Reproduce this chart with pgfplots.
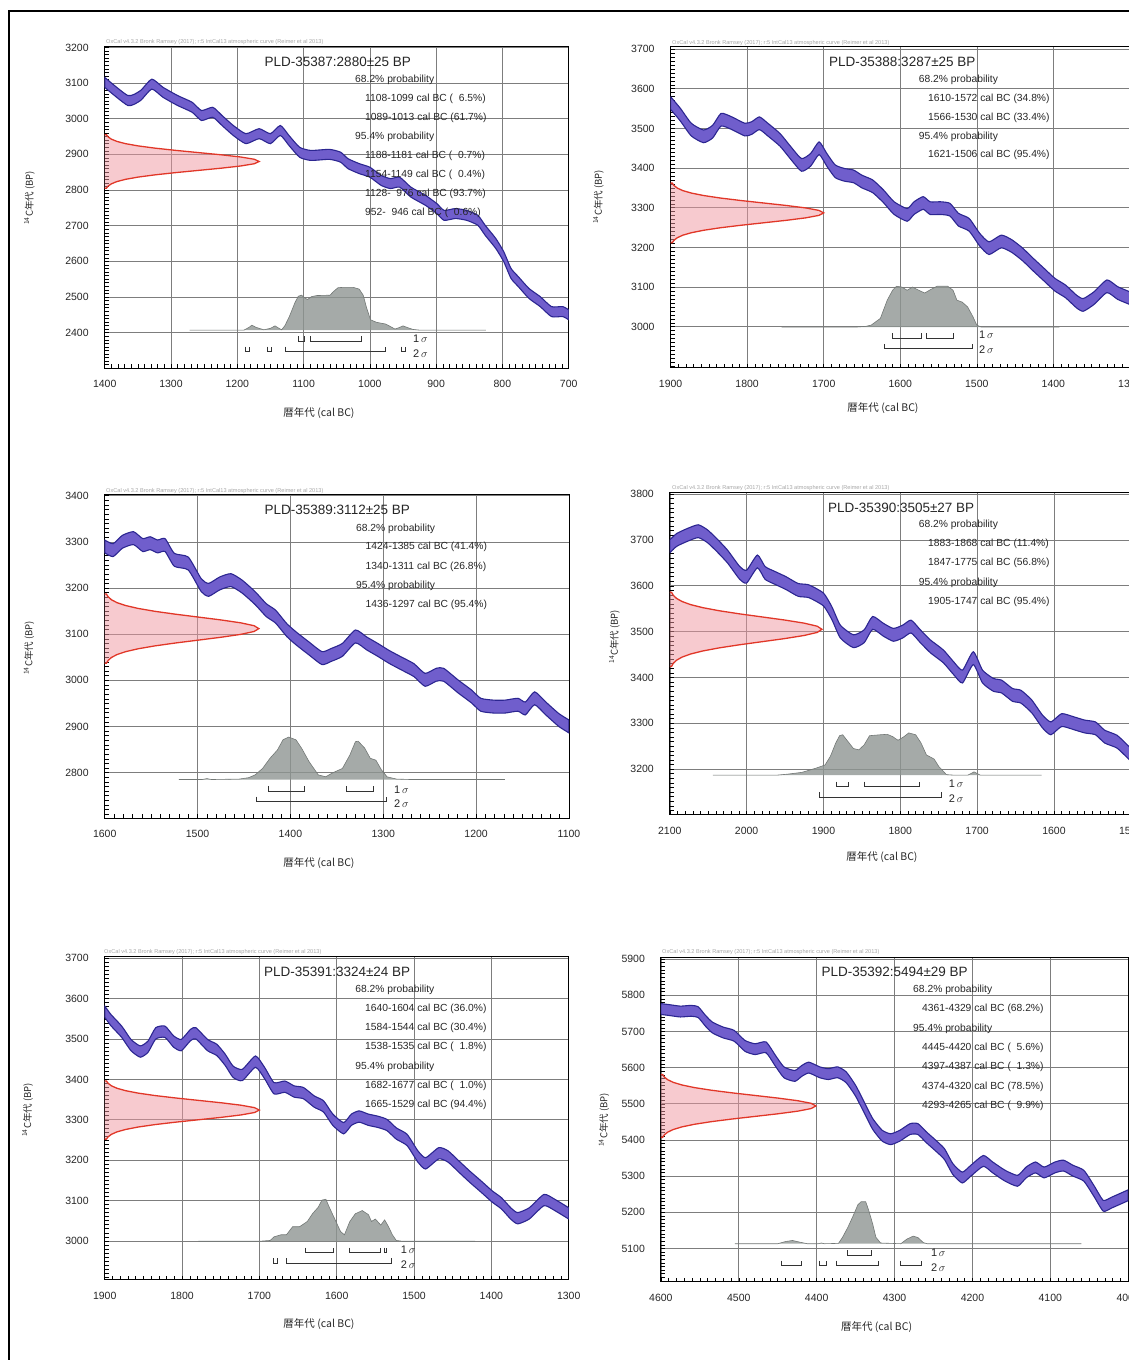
\documentclass[border=0pt]{standalone}
\usepackage{pgfplots}
\usepackage{pgfplotstable}
\pgfplotsset{compat=1.18}
\usepgfplotslibrary{fillbetween}
\usepackage{fontspec}
\setmainfont{Liberation Sans}
\newfontfamily\cjk{Noto Sans CJK JP}
\definecolor{bandfill}{RGB}{112,94,204}
\definecolor{bandedge}{RGB}{44,38,145}
\definecolor{gaussline}{RGB}{225,55,40}
\definecolor{gaussfill}{RGB}{240,150,160}
\definecolor{distfill}{RGB}{142,149,146}
\definecolor{distline}{RGB}{115,120,118}
\definecolor{gridc}{RGB}{125,125,125}

% ---------- calibration curve bands (x, lower, upper) ----------
\pgfplotstableread{
x lo hi
1400 3088 3116
1365 3037 3065
1346 3051 3079
1329 3083 3111
1312 3060 3088
1290 3037 3065
1268 3018 3046
1254 2995 3023
1237 3004 3032
1223 2981 3009
1206 2953 2981
1187 2930 2958
1167 2944 2972
1150 2930 2958
1135 2953 2981
1122 2925 2953
1106 2892 2920
1089 2883 2911
1061 2886 2914
1044 2878 2906
1033 2860 2888
1016 2846 2874
1000 2836 2864
983 2813 2841
969 2804 2832
955 2808 2836
938 2780 2808
916 2757 2785
899 2734 2762
888 2715 2743
871 2720 2748
854 2715 2743
837 2701 2729
826 2673 2701
810 2636 2664
798 2599 2627
787 2552 2580
776 2529 2557
760 2496 2524
743 2473 2501
726 2445 2473
709 2445 2473
700 2436 2464
}\bandA
\pgfplotstableread{
x lo hi
1900 3548 3580
1887 3518 3550
1873 3481 3513
1857 3464 3496
1845 3476 3508
1834 3506 3538
1820 3497 3529
1803 3481 3513
1794 3485 3517
1784 3497 3529
1773 3481 3513
1757 3455 3487
1743 3422 3454
1729 3392 3424
1717 3405 3437
1706 3434 3466
1696 3405 3437
1685 3376 3408
1673 3367 3399
1661 3363 3395
1650 3350 3382
1636 3338 3370
1622 3313 3345
1608 3283 3315
1591 3266 3298
1582 3283 3315
1570 3296 3328
1561 3283 3315
1547 3283 3315
1535 3279 3311
1524 3254 3286
1510 3241 3273
1496 3203 3235
1484 3182 3214
1468 3199 3231
1454 3187 3219
1440 3166 3198
1426 3140 3172
1412 3115 3147
1398 3090 3122
1384 3073 3105
1370 3048 3080
1361 3039 3071
1347 3056 3088
1330 3086 3118
1316 3069 3101
1300 3056 3088
}\bandB
\pgfplotstableread{
x lo hi
1600 3276 3304
1591 3268 3296
1581 3286 3314
1569 3294 3322
1559 3279 3307
1551 3283 3311
1543 3276 3304
1535 3279 3307
1525 3247 3275
1510 3239 3267
1496 3192 3220
1488 3182 3210
1476 3196 3224
1464 3203 3231
1452 3189 3217
1438 3164 3192
1426 3138 3166
1416 3124 3152
1404 3095 3123
1394 3077 3105
1380 3055 3083
1366 3034 3062
1356 3041 3069
1344 3052 3080
1330 3081 3109
1318 3066 3094
1306 3052 3080
1294 3037 3065
1281 3023 3051
1267 3008 3036
1255 2987 3015
1243 2998 3026
1235 2998 3026
1219 2972 3000
1205 2951 2979
1195 2933 2961
1181 2929 2957
1169 2929 2957
1155 2933 2961
1147 2925 2953
1137 2947 2975
1125 2925 2953
1111 2900 2928
1100 2886 2914
}\bandC
\pgfplotstableread{
x lo hi
2100 3672 3700
2091 3686 3714
2077 3697 3725
2063 3705 3733
2051 3694 3722
2039 3675 3703
2025 3650 3678
2009 3614 3642
2000 3606 3634
1986 3639 3667
1976 3614 3642
1963 3603 3631
1949 3592 3620
1933 3577 3605
1919 3574 3602
1900 3556 3584
1889 3526 3554
1878 3486 3514
1861 3465 3493
1847 3476 3504
1836 3505 3533
1822 3490 3518
1809 3479 3507
1797 3486 3514
1786 3497 3525
1774 3476 3504
1761 3454 3482
1744 3432 3460
1730 3405 3433
1719 3388 3416
1705 3428 3456
1693 3388 3416
1679 3370 3398
1668 3366 3394
1654 3348 3376
1643 3344 3372
1629 3323 3351
1615 3290 3318
1604 3275 3303
1590 3293 3321
1574 3286 3314
1560 3279 3307
1546 3275 3303
1534 3257 3285
1518 3246 3274
1504 3224 3252
1500 3218 3246
}\bandD
\pgfplotstableread{
x lo hi
1900 3554 3582
1892 3533 3561
1878 3504 3532
1866 3471 3499
1854 3455 3483
1844 3467 3495
1834 3500 3528
1822 3504 3532
1811 3480 3508
1801 3471 3499
1789 3496 3524
1782 3500 3528
1767 3471 3499
1755 3459 3487
1744 3434 3462
1734 3405 3433
1722 3397 3425
1705 3430 3458
1693 3401 3429
1681 3364 3392
1667 3368 3396
1655 3356 3384
1643 3352 3380
1629 3331 3359
1617 3319 3347
1605 3286 3314
1591 3265 3293
1581 3286 3314
1571 3294 3322
1559 3286 3314
1547 3281 3309
1535 3273 3301
1523 3252 3280
1509 3236 3264
1495 3195 3223
1485 3178 3206
1468 3203 3231
1456 3195 3223
1442 3170 3198
1428 3145 3173
1413 3120 3148
1399 3096 3124
1387 3079 3107
1375 3054 3082
1366 3042 3070
1351 3054 3082
1332 3087 3115
1318 3075 3103
1300 3054 3082
}\bandE
\pgfplotstableread{
x lo hi
4600 5747 5777
4589 5744 5774
4575 5740 5770
4561 5742 5772
4552 5738 5768
4543 5715 5745
4534 5696 5726
4520 5682 5712
4506 5673 5703
4492 5645 5675
4479 5636 5666
4465 5641 5671
4453 5604 5634
4442 5572 5602
4428 5562 5592
4419 5576 5606
4410 5585 5615
4396 5572 5602
4385 5567 5597
4373 5572 5602
4362 5558 5588
4350 5521 5551
4339 5475 5505
4328 5429 5459
4316 5397 5427
4305 5387 5417
4293 5397 5427
4280 5415 5445
4270 5415 5445
4259 5392 5422
4247 5369 5399
4236 5346 5376
4225 5304 5334
4213 5281 5311
4202 5300 5330
4186 5327 5357
4174 5309 5339
4158 5286 5316
4142 5272 5302
4131 5295 5325
4119 5309 5339
4108 5295 5325
4094 5309 5339
4083 5314 5344
4071 5300 5330
4057 5286 5316
4044 5244 5274
4032 5203 5233
4021 5212 5242
4000 5232 5262
}\bandF

% ---------- measured 14C dates (profile on the y axis) ----------
\pgfplotstableread{
x y
1400 2805
1397.4 2805
1394.7 2811.25
1389.8 2817.5
1381.5 2823.75
1368.5 2830
1349.6 2836.25
1324.3 2842.5
1293.3 2848.75
1258.7 2855
1224.1 2861.25
1194.4 2867.5
1174.2 2873.75
1167 2880
1174.2 2886.25
1194.4 2892.5
1224.1 2898.75
1258.7 2905
1293.3 2911.25
1324.3 2917.5
1349.6 2923.75
1368.5 2930
1381.5 2936.25
1389.8 2942.5
1394.7 2948.75
1397.4 2955
1400 2955
}\gaussA
\pgfplotstableread{
x y
1900 3212
1897.8 3212
1895.4 3218.25
1891.2 3224.5
1884.1 3230.75
1872.9 3237
1856.7 3243.25
1835.1 3249.5
1808.4 3255.75
1778.7 3262
1749 3268.25
1723.5 3274.5
1706.2 3280.75
1700 3287
1706.2 3293.25
1723.5 3299.5
1749 3305.75
1778.7 3312
1808.4 3318.25
1835.1 3324.5
1856.7 3330.75
1872.9 3337
1884.1 3343.25
1891.2 3349.5
1895.4 3355.75
1897.8 3362
1900 3362
}\gaussB
\pgfplotstableread{
x y
1600 3037
1598.2 3037
1596.2 3043.25
1592.7 3049.5
1586.8 3055.75
1577.5 3062
1564.1 3068.25
1546.1 3074.5
1524 3080.75
1499.3 3087
1474.7 3093.25
1453.5 3099.5
1439.1 3105.75
1434 3112
1439.1 3118.25
1453.5 3124.5
1474.7 3130.75
1499.3 3137
1524 3143.25
1546.1 3149.5
1564.1 3155.75
1577.5 3162
1586.8 3168.25
1592.7 3174.5
1596.2 3180.75
1598.2 3187
1600 3187
}\gaussC
\pgfplotstableread{
x y
2100 3424
2097.8 3424
2095.5 3430.75
2091.3 3437.5
2084.2 3444.25
2073.2 3451
2057.2 3457.75
2035.7 3464.5
2009.4 3471.25
1979.9 3478
1950.5 3484.75
1925.3 3491.5
1908.1 3498.25
1902 3505
1908.1 3511.75
1925.3 3518.5
1950.5 3525.25
1979.9 3532
2009.4 3538.75
2035.7 3545.5
2057.2 3552.25
2073.2 3559
2084.2 3565.75
2091.3 3572.5
2095.5 3579.25
2097.8 3586
2100 3586
}\gaussD
\pgfplotstableread{
x y
1900 3252
1897.8 3252
1895.4 3258
1891.2 3264
1884.1 3270
1872.9 3276
1856.7 3282
1835.1 3288
1808.4 3294
1778.7 3300
1749 3306
1723.5 3312
1706.2 3318
1700 3324
1706.2 3330
1723.5 3336
1749 3342
1778.7 3348
1808.4 3354
1835.1 3360
1856.7 3366
1872.9 3372
1884.1 3378
1891.2 3384
1895.4 3390
1897.8 3396
1900 3396
}\gaussE
\pgfplotstableread{
x y
4600 5407
4597.8 5407
4595.5 5414.25
4591.3 5421.5
4584.2 5428.75
4573.1 5436
4557 5443.25
4535.4 5450.5
4508.9 5457.75
4479.3 5465
4449.8 5472.25
4424.4 5479.5
4407.1 5486.75
4401 5494
4407.1 5501.25
4424.4 5508.5
4449.8 5515.75
4479.3 5523
4508.9 5530.25
4535.4 5537.5
4557 5544.75
4573.1 5552
4584.2 5559.25
4591.3 5566.5
4595.5 5573.75
4597.8 5581
4600 5581
}\gaussF

% ---------- calibrated distributions ----------
\pgfplotstableread{
x y
1272 2407
1190 2407
1182 2415
1178 2421
1172 2415
1160 2408
1150 2412
1143 2419
1137 2412
1133 2408
1128 2420
1121 2447
1113 2484
1108 2502
1103 2505
1098 2497
1094 2493
1088 2501
1080 2504
1060 2505
1055 2515
1048 2526
1040 2527
1025 2527
1016 2522
1010 2505
1005 2470
999 2436
990 2429
976 2424
968 2416
962 2410
956 2414
950 2419
943 2414
935 2409
925 2407
825 2407
}\distA
\pgfplotstableread{
x y
1755 2999
1659 2999
1645 3001
1638 3004
1626 3021
1617 3067
1610 3092
1605 3102
1598 3100
1591 3092
1584 3100
1577 3093
1568 3085
1561 3093
1552 3102
1538 3102
1531 3092
1526 3067
1519 3062
1512 3050
1505 3025
1500 3004
1494 2999
1392 2999
}\distB
\pgfplotstableread{
x y
1520 2785
1495 2785
1490 2787
1485 2785
1455 2786
1445 2789
1438 2795
1430 2809
1422 2831
1414 2849
1408 2871
1402 2877
1394 2871
1388 2853
1380 2824
1370 2795
1362 2791
1354 2800
1344 2809
1336 2838
1330 2867
1327 2868
1320 2853
1314 2831
1308 2827
1302 2806
1296 2791
1286 2786
1270 2785
1169 2785
}\distC
\pgfplotstableread{
x y
2044 3187
1960 3187
1947 3189
1928 3193
1910 3202
1898 3209
1891 3228
1884 3257
1879 3273
1875 3275
1868 3260
1861 3245
1854 3242
1847 3253
1840 3273
1826 3275
1817 3276
1810 3271
1803 3263
1796 3270
1789 3279
1780 3275
1773 3257
1766 3231
1756 3222
1750 3206
1740 3188
1731 3187
1712 3187
1704 3194
1696 3187
1616 3187
}\distD
\pgfplotstableread{
x y
1779 2999
1700 2999
1686 3001
1681 3010
1672 3015
1665 3015
1657 3035
1648 3035
1638 3048
1631 3068
1624 3083
1619 3101
1614 3103
1610 3085
1602 3052
1595 3023
1590 3015
1583 3048
1576 3067
1567 3075
1559 3065
1555 3048
1550 3054
1543 3039
1538 3052
1533 3035
1528 3015
1523 3001
1515 2999
1421 2999
}\distE
\pgfplotstableread{
x y
4505 5113
4450 5113
4440 5119
4431 5122
4421 5117
4412 5113
4398 5113
4394 5115
4390 5113
4372 5114
4367 5130
4360 5158
4353 5191
4347 5221
4343 5229
4337 5229
4333 5204
4328 5167
4324 5131
4318 5115
4292 5113
4284 5126
4276 5134
4270 5130
4263 5116
4258 5113
4060 5113
}\distF

\pgfplotsset{
  oxcal/.style={
    anchor=south west, scale only axis, x dir=reverse,
    axis line style={black, line width=1pt},
    grid=major, major grid style={gridc, line width=0.6pt},
    tick pos=left, tick align=inside,
    major tick length=4pt, minor tick length=4pt,
    every tick/.style={black, line width=0.5pt},
    ticklabel style={font=\fontsize{10.5}{12}\selectfont, text=black!85},
    /pgf/number format/assume math mode=true,
    /pgf/number format/set thousands separator={},
    xticklabel style={yshift=-8.5pt},
    yticklabel style={xshift=-12.5pt},
    unbounded coords=jump,
  },
  gfill/.style={draw=none, fill=gaussfill, fill opacity=0.5},
  gline/.style={gaussline, line width=1.3pt},
  dfill/.style={fill=distfill, fill opacity=0.8, draw=distline, line width=0.6pt},
  brk/.style={black!80, line width=1pt},
  edge/.style={draw=none, smooth, tension=0.35},
  band/.style={fill=bandfill, draw=bandedge, line width=1.1pt},
}

\newcommand{\hd}{OxCal v4.3.2 Bronk Ramsey (2017); r:5 IntCal13 atmospheric curve (Reimer et al 2013)}
\newcommand{\tit}{\fontsize{13.5}{15}\selectfont}
\newcommand{\prb}{\fontsize{10.3}{12}\selectfont}
\newcommand{\ylab}{{\cjk\fontsize{9.5}{11}\selectfont \textsuperscript{14}C年代 (BP)}}
\newcommand{\xlab}{{\cjk\fontsize{10.5}{12}\selectfont 暦年代 (cal BC)}}
\newcommand{\sg}[1]{{\fontsize{11}{12}\selectfont #1\,$\sigma$}}
\newcommand{\z}{\phantom{0}}

\begin{document}
\begin{tikzpicture}[x=1pt,y=1pt]
\draw[line width=2.2pt] (9,0) -- (9,1349) -- (1129,1349);

% ===== Panel 1 =====
\begin{axis}[oxcal, at={(104.7pt,991.7pt)}, width=464pt, height=321.6pt,
  xmin=700, xmax=1400, ymin=2300, ymax=3202,
  xtick={700,800,...,1400}, minor xtick={700,710,...,1400},
  ytick={2400,2500,...,3200}, minor ytick={2300,2310,...,3200}]
\addplot[gfill] table {\gaussA};
\addplot[gline] table {\gaussA};
\addplot[dfill] table {\distA};
\addplot[edge, name path=Ahi] table[x=x,y=hi] {\bandA};
\addplot[edge, name path=Alo] table[x=x,y=lo] {\bandA};
\addplot[band] fill between[of=Ahi and Alo];
\addplot[brk] coordinates {(1108,2390) (1108,2376) (1099,2376) (1099,2390) (1099,nan)
  (1089,2390) (1089,2376) (1013,2376) (1013,2390)};
\addplot[brk] coordinates {(1188,2361) (1188,2347) (1181,2347) (1181,2361) (1181,nan)
  (1154,2361) (1154,2347) (1149,2347) (1149,2361) (1149,nan)
  (1128,2361) (1128,2347) (976,2347) (976,2361) (976,nan)
  (952,2361) (952,2347) (946,2347) (946,2361)};
\end{axis}

% ===== Panel 2 =====
\begin{axis}[oxcal, at={(670.6pt,992pt)}, width=459.3pt, height=321.3pt,
  xmin=1300, xmax=1900, ymin=2896, ymax=3706,
  xtick={1300,1400,...,1900}, minor xtick={1300,1310,...,1900},
  ytick={3000,3100,...,3700}, minor ytick={2900,2910,...,3700}]
\addplot[gfill] table {\gaussB};
\addplot[gline] table {\gaussB};
\addplot[dfill] table {\distB};
\addplot[edge, name path=Bhi] table[x=x,y=hi] {\bandB};
\addplot[edge, name path=Blo] table[x=x,y=lo] {\bandB};
\addplot[band] fill between[of=Bhi and Blo];
\addplot[brk] coordinates {(1610,2983) (1610,2970) (1572,2970) (1572,2983) (1572,nan)
  (1566,2983) (1566,2970) (1530,2970) (1530,2983)};
\addplot[brk] coordinates {(1621,2957) (1621,2944) (1506,2944) (1506,2957)};
\end{axis}

% ===== Panel 3 =====
\begin{axis}[oxcal, at={(104.7pt,541.7pt)}, width=464.3pt, height=324pt,
  xmin=1100, xmax=1600, ymin=2701, ymax=3403,
  xtick={1100,1200,...,1600}, minor xtick={1100,1110,...,1600},
  ytick={2800,2900,...,3400}, minor ytick={2710,2720,...,3400}]
\addplot[gfill] table {\gaussC};
\addplot[gline] table {\gaussC};
\addplot[dfill] table {\distC};
\addplot[edge, name path=Chi] table[x=x,y=hi] {\bandC};
\addplot[edge, name path=Clo] table[x=x,y=lo] {\bandC};
\addplot[band] fill between[of=Chi and Clo];
\addplot[brk] coordinates {(1424,2771) (1424,2760) (1385,2760) (1385,2771) (1385,nan)
  (1340,2771) (1340,2760) (1311,2760) (1311,2771)};
\addplot[brk] coordinates {(1436,2748) (1436,2737) (1297,2737) (1297,2748)};
\end{axis}

% ===== Panel 4 =====
\begin{axis}[oxcal, at={(669.8pt,545pt)}, width=461pt, height=322.3pt,
  xmin=1500, xmax=2100, ymin=3100, ymax=3803,
  xtick={1500,1600,...,2100}, minor xtick={1500,1510,...,2100},
  ytick={3200,3300,...,3800}, minor ytick={3110,3120,...,3800}]
\addplot[gfill] table {\gaussD};
\addplot[gline] table {\gaussD};
\addplot[dfill] table {\distD};
\addplot[edge, name path=Dhi] table[x=x,y=hi] {\bandD};
\addplot[edge, name path=Dlo] table[x=x,y=lo] {\bandD};
\addplot[band] fill between[of=Dhi and Dlo];
\addplot[brk] coordinates {(1883,3173) (1883,3162) (1868,3162) (1868,3173) (1868,nan)
  (1847,3173) (1847,3162) (1775,3162) (1775,3173)};
\addplot[brk] coordinates {(1905,3150) (1905,3139) (1747,3139) (1747,3150)};
\end{axis}

% ===== Panel 5 =====
\begin{axis}[oxcal, at={(104.7pt,80pt)}, width=464pt, height=323.3pt,
  xmin=1300, xmax=1900, ymin=2903, ymax=3704,
  xtick={1300,1400,...,1900}, minor xtick={1300,1310,...,1900},
  ytick={3000,3100,...,3700}, minor ytick={2910,2920,...,3700}]
\addplot[gfill] table {\gaussE};
\addplot[gline] table {\gaussE};
\addplot[dfill] table {\distE};
\addplot[edge, name path=Ehi] table[x=x,y=hi] {\bandE};
\addplot[edge, name path=Elo] table[x=x,y=lo] {\bandE};
\addplot[band] fill between[of=Ehi and Elo];
\addplot[brk] coordinates {(1640,2983) (1640,2970) (1604,2970) (1604,2983) (1604,nan)
  (1584,2983) (1584,2970) (1544,2970) (1544,2983) (1544,nan)
  (1538,2983) (1538,2970) (1535,2970) (1535,2983)};
\addplot[brk] coordinates {(1682,2957) (1682,2944) (1677,2944) (1677,2957) (1677,nan)
  (1665,2957) (1665,2944) (1529,2944) (1529,2957)};
\end{axis}

% ===== Panel 6 =====
\begin{axis}[oxcal, at={(660.9pt,78.3pt)}, width=467.3pt, height=324.4pt,
  xmin=4000, xmax=4600, ymin=5008, ymax=5905,
  xtick={4000,4100,...,4600}, minor xtick={4000,4010,...,4600},
  ytick={5100,5200,...,5900}, minor ytick={5010,5020,...,5900}]
\addplot[gfill] table {\gaussF};
\addplot[gline] table {\gaussF};
\addplot[dfill] table {\distF};
\addplot[edge, name path=Fhi] table[x=x,y=hi] {\bandF};
\addplot[edge, name path=Flo] table[x=x,y=lo] {\bandF};
\addplot[band] fill between[of=Fhi and Flo];
\addplot[brk] coordinates {(4361,5095) (4361,5081) (4329,5081) (4329,5095)};
\addplot[brk] coordinates {(4445,5066) (4445,5052) (4420,5052) (4420,5066) (4420,nan)
  (4397,5066) (4397,5052) (4387,5052) (4387,5066) (4387,nan)
  (4374,5066) (4374,5052) (4320,5052) (4320,5066) (4320,nan)
  (4293,5066) (4293,5052) (4265,5052) (4265,5066)};
\end{axis}

% ===== texts =====
\begin{scope}[every node/.style={inner sep=0pt, text=black!85}]
% headers
\foreach \px/\py in {106/1317.7, 672/1316.7, 106/869.3, 672/872, 104/408, 662/408}
  \node[anchor=west, text=black!35] at (\px,\py) {\fontsize{5.6}{6}\selectfont\hd};
% axis labels
\node[rotate=90] at (29.6,1162) {\ylab};
\node[rotate=90] at (598.5,1163) {\ylab};
\node[rotate=90] at (29,712) {\ylab};
\node[rotate=90] at (614.6,723.3) {\ylab};
\node[rotate=90] at (27.7,250) {\ylab};
\node[rotate=90] at (604,240) {\ylab};
\node at (319,947.3) {\xlab};
\node at (883,951.7) {\xlab};
\node at (319,496.7) {\xlab};
\node at (882,502.7) {\xlab};
\node at (319,35.7) {\xlab};
\node at (876.6,33.3) {\xlab};
% sigma labels
\node[anchor=west] at (413,1021) {\sg{1}};
\node[anchor=west] at (413,1006) {\sg{2}};
\node[anchor=west] at (979,1025) {\sg{1}};
\node[anchor=west] at (979,1010) {\sg{2}};
\node[anchor=west] at (394,570.7) {\sg{1}};
\node[anchor=west] at (394,556.7) {\sg{2}};
\node[anchor=west] at (948.6,576.7) {\sg{1}};
\node[anchor=west] at (948.6,561) {\sg{2}};
\node[anchor=west] at (400.7,110) {\sg{1}};
\node[anchor=west] at (400.7,95) {\sg{2}};
\node[anchor=west] at (930.8,107.7) {\sg{1}};
\node[anchor=west] at (930.8,92.3) {\sg{2}};
% panel 1
\node[anchor=west] at (264.5,1298) {\tit PLD-35387:2880±25 BP};
\node[anchor=west] at (355,1280) {\prb 68.2\% probability};
\node[anchor=west] at (365,1261.3) {\prb 1108-1099 cal BC (\z6.5\%)};
\node[anchor=west] at (365,1242.3) {\prb 1089-1013 cal BC (61.7\%)};
\node[anchor=west] at (355,1223) {\prb 95.4\% probability};
\node[anchor=west] at (365,1204) {\prb 1188-1181 cal BC (\z0.7\%)};
\node[anchor=west] at (365,1185) {\prb 1154-1149 cal BC (\z0.4\%)};
\node[anchor=west] at (365,1166) {\prb 1128-\z976 cal BC (93.7\%)};
\node[anchor=west] at (365,1147) {\prb 952-\z946 cal BC (\z0.6\%)};
% panel 2
\node[anchor=west] at (829,1298) {\tit PLD-35388:3287±25 BP};
\node[anchor=west] at (918.7,1280) {\prb 68.2\% probability};
\node[anchor=west] at (928,1261.3) {\prb 1610-1572 cal BC (34.8\%)};
\node[anchor=west] at (928,1242.3) {\prb 1566-1530 cal BC (33.4\%)};
\node[anchor=west] at (918.7,1223.3) {\prb 95.4\% probability};
\node[anchor=west] at (928,1205) {\prb 1621-1506 cal BC (95.4\%)};
% panel 3
\node[anchor=west] at (264.5,849.7) {\tit PLD-35389:3112±25 BP};
\node[anchor=west] at (355.9,831.3) {\prb 68.2\% probability};
\node[anchor=west] at (365.5,812.7) {\prb 1424-1385 cal BC (41.4\%)};
\node[anchor=west] at (365.5,793.3) {\prb 1340-1311 cal BC (26.8\%)};
\node[anchor=west] at (355.9,774) {\prb 95.4\% probability};
\node[anchor=west] at (365.5,754.7) {\prb 1436-1297 cal BC (95.4\%)};
% panel 4
\node[anchor=west] at (827.8,852.3) {\tit PLD-35390:3505±27 BP};
\node[anchor=west] at (918.7,834.7) {\prb 68.2\% probability};
\node[anchor=west] at (928,815.7) {\prb 1883-1868 cal BC (11.4\%)};
\node[anchor=west] at (928,796.7) {\prb 1847-1775 cal BC (56.8\%)};
\node[anchor=west] at (918.7,777.3) {\prb 95.4\% probability};
\node[anchor=west] at (928,758.3) {\prb 1905-1747 cal BC (95.4\%)};
% panel 5
\node[anchor=west] at (263.8,388.3) {\tit PLD-35391:3324±24 BP};
\node[anchor=west] at (355.2,370) {\prb 68.2\% probability};
\node[anchor=west] at (365,350.7) {\prb 1640-1604 cal BC (36.0\%)};
\node[anchor=west] at (365,331.7) {\prb 1584-1544 cal BC (30.4\%)};
\node[anchor=west] at (365,312.7) {\prb 1538-1535 cal BC (\z1.8\%)};
\node[anchor=west] at (355.2,293.3) {\prb 95.4\% probability};
\node[anchor=west] at (365,274.3) {\prb 1682-1677 cal BC (\z1.0\%)};
\node[anchor=west] at (365,254.7) {\prb 1665-1529 cal BC (94.4\%)};
% panel 6
\node[anchor=west] at (821.3,388.3) {\tit PLD-35392:5494±29 BP};
\node[anchor=west] at (913,369.7) {\prb 68.2\% probability};
\node[anchor=west] at (922,350.7) {\prb 4361-4329 cal BC (68.2\%)};
\node[anchor=west] at (913,331.3) {\prb 95.4\% probability};
\node[anchor=west] at (922,312) {\prb 4445-4420 cal BC (\z5.6\%)};
\node[anchor=west] at (922,292.7) {\prb 4397-4387 cal BC (\z1.3\%)};
\node[anchor=west] at (922,273.3) {\prb 4374-4320 cal BC (78.5\%)};
\node[anchor=west] at (922,254) {\prb 4293-4265 cal BC (\z9.9\%)};
\end{scope}

\pgfresetboundingbox
\path[use as bounding box] (0,0) rectangle (1129,1360);
\end{tikzpicture}
\end{document}
